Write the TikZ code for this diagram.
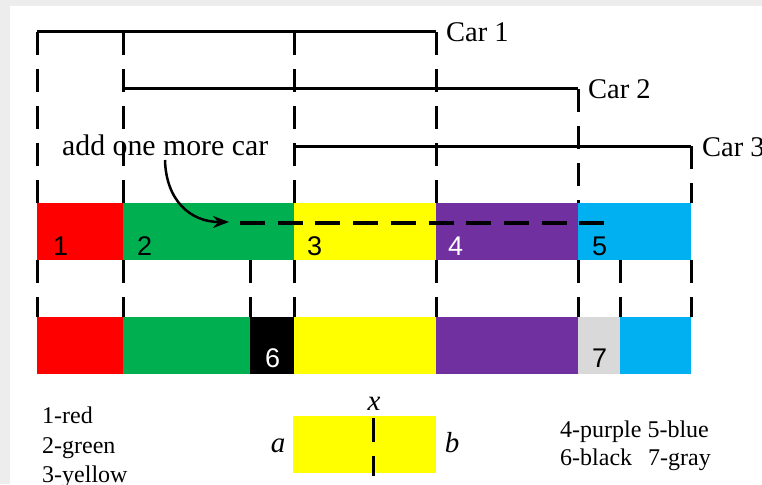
\documentclass[tikz,border=0pt]{standalone}
\usepackage{fontspec}
\setmainfont{Liberation Serif}
\newfontfamily\arialf{Liberation Sans}
\usetikzlibrary{arrows.meta}
\definecolor{cred}{HTML}{FF0000}
\definecolor{cgreen}{HTML}{00B050}
\definecolor{cyellow}{HTML}{FFFF00}
\definecolor{cpurple}{HTML}{7030A0}
\definecolor{cblue}{HTML}{00B0F0}
\definecolor{cgray}{HTML}{D9D9D9}
\definecolor{bgband}{HTML}{EDEDED}
\tikzset{
  carline/.style={line width=3pt},
  vdash/.style={line width=3pt, dash pattern=on 23pt off 14pt},
  hdash/.style={line width=4pt, dash pattern=on 25pt off 12.7pt},
  carlabel/.style={anchor=base west, inner sep=0pt, font=\fontsize{28.5}{30}\selectfont},
  digit/.style={anchor=base west, inner sep=0pt, font=\arialf\fontsize{27}{28}\selectfont},
  legend/.style={anchor=base west, inner sep=0pt, font=\fontsize{24}{26}\selectfont},
  varlabel/.style={anchor=base, inner sep=0pt, font=\itshape\fontsize{29}{30}\selectfont},
}
\begin{document}
\begin{tikzpicture}[x=1pt,y=-1pt]
\useasboundingbox (0,0) rectangle (762,484);
\clip (0,0) rectangle (762,484);
\fill[bgband] (0,0) rectangle (762,484);
\fill[white] (10,6) rectangle (762,484);

% top row of colours
\fill[cred]    (37,203)  rectangle (123,260);
\fill[cgreen]  (123,203) rectangle (294,260);
\fill[cyellow] (294,203) rectangle (436,260);
\fill[cpurple] (436,203) rectangle (578,260);
\fill[cblue]   (578,203) rectangle (691,260);

% bottom row of colours
\fill[cred]    (37,317)  rectangle (123,374);
\fill[cgreen]  (123,317) rectangle (250,374);
\fill[black]   (250,317) rectangle (294,374);
\fill[cyellow] (294,317) rectangle (436,374);
\fill[cpurple] (436,317) rectangle (578,374);
\fill[cgray]   (578,317) rectangle (620,374);
\fill[cblue]   (620,317) rectangle (691,374);

% digits
\node[digit] (d1) at (53,255) {1};
\node[digit] (d2) at (137,255) {2};
\node[digit] (d3) at (307,255) {3};
\node[digit,white] (d4) at (448,255) {4};
\node[digit] (d5) at (592,255) {5};
\node[digit,white] (d6) at (265,367) {6};
\node[digit] (d7) at (592,367) {7};

% car brackets
\draw[carline] (37,32) -- (436,32);
\draw[carline] (123,89) -- (578,89);
\draw[carline] (294,146) -- (691,146);
\node[carlabel] (car1) at (446,42) {Car 1};
\node[carlabel] (car2) at (588,99) {Car 2};
\node[carlabel] (car3) at (702,156) {Car 3};

% vertical dashed lines from cars to the top row
\foreach \xx in {37,123,294,436} {\draw[vdash] (\xx,32) -- (\xx,203);}
\draw[vdash] (578,89) -- (578,203);
\draw[vdash] (691,146) -- (691,203);

% dashed lines between the rows
\foreach \xx in {37,123,250,294,436,578,620,691} {\draw[vdash] (\xx,260) -- (\xx,317);}

% add one more car
\node[carlabel, font=\fontsize{29.8}{31}\selectfont] (add) at (62,155) {add one more car};
\coordinate (arrstart) at (165,160);
\coordinate (arrtip) at (229,222);
\draw[line width=2.5pt, -{Stealth[length=16pt,width=12pt]}] (arrstart) .. controls (166,200) and (190,222) .. (arrtip);
\coordinate (hd1) at (240,223);
\coordinate (hd2) at (604,223);
\draw[hdash] (hd1) -- (hd2);

% legend
\node[legend] (l1) at (42,423) {1-red};
\node[legend] (l2) at (42,453) {2-green};
\node[legend] (l3) at (42,482) {3-yellow};
\node[legend] (l4) at (560,437) {4-purple 5-blue};
\node[legend] (l6) at (560,465) {6-black};
\node[legend] (l7) at (648,465) {7-gray};

\fill[cyellow] (293,416) rectangle (436,473);
\draw[vdash, dash pattern=on 24pt off 14pt] (373,418) -- (373,476);
\node[varlabel] (vx) at (374,410) {x};
\node[varlabel] (va) at (278,452) {a};
\node[varlabel] (vb) at (452,452) {b};
\end{tikzpicture}
\end{document}
